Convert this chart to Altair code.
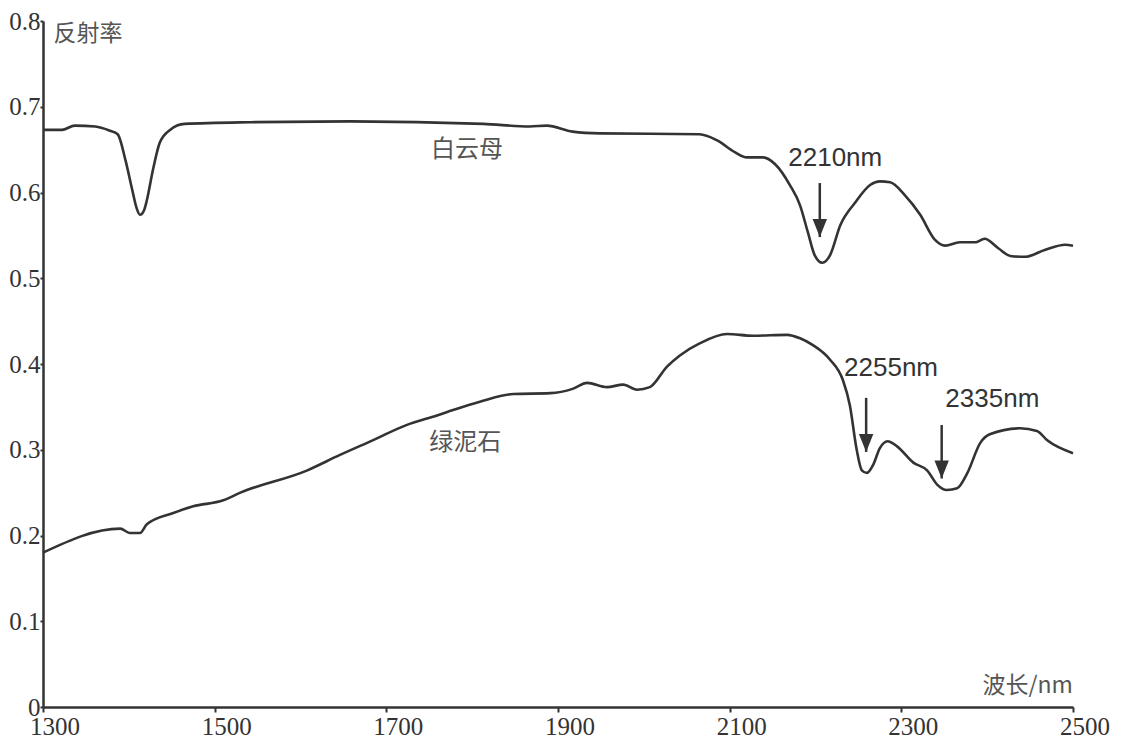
import altair as alt
import pandas as pd

# Muscovite (白云母) spectrum
mus_nm = [1300, 1322, 1337, 1361, 1378, 1387, 1396, 1404, 1409, 1413, 1418, 1421, 1428, 1436, 1448, 1465,
          1541, 1658, 1813, 1867, 1887, 1917, 1949, 2065, 2085, 2106, 2120, 2139, 2153, 2170, 2182, 2191,
          2199, 2208, 2217, 2229, 2246, 2264, 2275, 2287, 2304, 2322, 2339, 2351, 2368, 2386, 2397, 2413,
          2427, 2444, 2467, 2491, 2500]
mus_r = [0.673, 0.673, 0.678, 0.677, 0.672, 0.668, 0.638, 0.603, 0.582, 0.574, 0.580, 0.591, 0.626, 0.658,
         0.673, 0.680, 0.682, 0.683, 0.680, 0.677, 0.678, 0.671, 0.669, 0.668, 0.661, 0.647, 0.641, 0.641,
         0.633, 0.609, 0.585, 0.554, 0.527, 0.518, 0.527, 0.562, 0.588, 0.609, 0.613, 0.612, 0.597, 0.574,
         0.545, 0.538, 0.542, 0.542, 0.546, 0.535, 0.526, 0.525, 0.533, 0.539, 0.538]

# Chlorite (绿泥石) spectrum
chl_nm = [1300, 1390, 1401, 1413, 1421, 1451, 1475, 1510, 1530, 1608, 1646, 1684, 1724, 1759, 1771, 1809,
          1848, 1891, 1917, 1934, 1957, 1976, 1992, 2007, 2027, 2042, 2065, 2097, 2127, 2167, 2182, 2197,
          2217, 2232, 2240, 2248, 2254, 2260, 2267, 2275, 2284, 2295, 2314, 2330, 2342, 2353, 2365, 2377,
          2392, 2403, 2438, 2458, 2470, 2500]
chl_r = [0.180, 0.208, 0.203, 0.203, 0.213, 0.226, 0.234, 0.241, 0.250, 0.276, 0.294, 0.311, 0.329, 0.340,
         0.344, 0.356, 0.365, 0.366, 0.371, 0.378, 0.373, 0.376, 0.370, 0.373, 0.397, 0.410, 0.424, 0.435,
         0.433, 0.434, 0.430, 0.422, 0.405, 0.381, 0.352, 0.300, 0.276, 0.273, 0.282, 0.302, 0.310, 0.304,
         0.285, 0.276, 0.259, 0.253, 0.255, 0.273, 0.308, 0.318, 0.325, 0.322, 0.311, 0.296]

# curve name labels
name_text = ["白云母", "绿泥石"]
name_x = [1794, 1792]
name_y = [0.650, 0.308]

# absorption feature annotations
ann_text = ["2210nm", "2255nm", "2335nm"]
ann_x = [2223, 2288, 2406]
ann_y = [0.640, 0.395, 0.359]
arrow_x = [2205, 2259, 2347]
arrow_top = [0.611, 0.3605, 0.3288]
arrow_tip = [0.548, 0.2975, 0.2665]

x_ticks = [1300, 1500, 1700, 1900, 2100, 2300, 2500]
x_tick_labels = ["1300", "1500", "1700", "1900", "2100", "2300", "2500"]
y_ticks = [0, 0.1, 0.2, 0.3, 0.4, 0.5, 0.6, 0.7, 0.8]

df = pd.concat([
    pd.DataFrame({"nm": mus_nm, "r": mus_r, "s": "白云母"}),
    pd.DataFrame({"nm": chl_nm, "r": chl_r, "s": "绿泥石"}),
])
names = pd.DataFrame({"t": name_text, "x": name_x, "y": name_y})
ann = pd.DataFrame({"t": ann_text, "x": ann_x, "y": ann_y})
arr = pd.DataFrame({"x": arrow_x, "y1": arrow_top, "y2": arrow_tip})
xlab = pd.DataFrame({"x": x_ticks, "t": x_tick_labels})

ink = "#333333"
xs = alt.Scale(domain=[1300, 2500], nice=False, zero=False)
ys = alt.Scale(domain=[0, 0.8], nice=False)

x_axis = alt.Axis(values=x_ticks, labels=False, grid=False, domainColor=ink, domainWidth=2.5,
                  tickColor=ink, tickWidth=2, tickSize=5,
                  title="波长/nm", titleFont="Noto Sans CJK SC", titleFontSize=23, titleFontWeight="normal",
                  titleColor="#555555", titleX=939, titleY=-22, titleAlign="left", titleBaseline="middle",
                  titleAngle=0)
y_axis = alt.Axis(values=y_ticks, grid=False, domainColor=ink, domainWidth=2.5,
                  tickColor=ink, tickWidth=2, tickSize=3, labelFont="Liberation Serif", labelFontSize=25,
                  labelColor=ink, labelPadding=0, labelFlush=False,
                  labelExpr="datum.value == 0 ? '0' : format(datum.value, '.1f')",
                  title="反射率", titleFont="Noto Sans CJK SC", titleFontSize=23, titleFontWeight="normal",
                  titleColor="#555555", titleX=10, titleY=12, titleAlign="left", titleBaseline="middle",
                  titleAngle=0)

lines = alt.Chart(df).mark_line(color=ink, strokeWidth=2.6, interpolate="monotone").encode(
    x=alt.X("nm:Q", scale=xs, axis=x_axis),
    y=alt.Y("r:Q", scale=ys, axis=y_axis),
    detail="s:N",
)

xlabels = alt.Chart(xlab).mark_text(font="Liberation Serif", fontSize=25, color=ink, align="center",
                                    baseline="middle", dx=12).encode(
    x=alt.X("x:Q", scale=xs), y=alt.value(706), text="t:N")

name_marks = alt.Chart(names).mark_text(font="Noto Sans CJK SC", fontSize=24, color="#555555",
                                        align="center", baseline="middle").encode(
    x=alt.X("x:Q", scale=xs), y=alt.Y("y:Q", scale=ys), text="t:N")

ann_marks = alt.Chart(ann).mark_text(font="Liberation Sans", fontSize=26, color=ink,
                                     align="center", baseline="middle").encode(
    x=alt.X("x:Q", scale=xs), y=alt.Y("y:Q", scale=ys), text="t:N")

shafts = alt.Chart(arr).mark_rule(color=ink, strokeWidth=2.5).encode(
    x=alt.X("x:Q", scale=xs), y=alt.Y("y1:Q", scale=ys), y2=alt.Y2("y2:Q"))

heads = alt.Chart(arr).mark_point(shape="M-0.8,-1L0.8,-1L0,1Z", size=324, filled=True, opacity=1,
                                  color=ink, yOffset=-9).encode(
    x=alt.X("x:Q", scale=xs), y=alt.Y("y2:Q", scale=ys))

chart = alt.layer(lines, xlabels, name_marks, shafts, heads, ann_marks).properties(
    width=1030, height=686,
    background="white",
    autosize=alt.AutoSizeParams(type="none"),
    padding={"left": 35, "top": 13, "right": 40, "bottom": 32},
).configure_view(strokeWidth=0)

chart.save("out.html", embed_options={"renderer": "svg", "actions": False})
